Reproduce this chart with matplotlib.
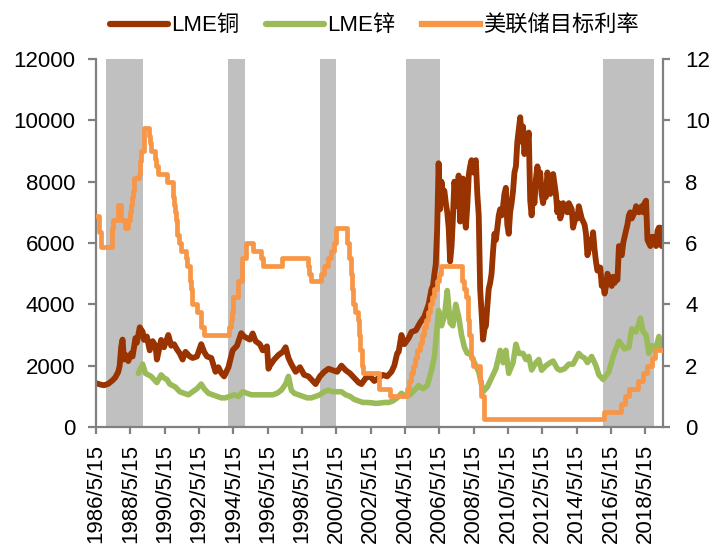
import matplotlib
matplotlib.use("Agg")
import matplotlib.pyplot as plt
import pandas as pd

plt.rcParams['font.family'] = ['Liberation Sans', 'Noto Sans CJK SC', 'DejaVu Sans']

# ---------------- data ----------------
copper_dates = ['1986-05-15', '1986-08', '1986-11', '1987-02', '1987-05', '1987-07', '1987-09', '1987-10',
                '1987-11', '1987-12', '1988-01', '1988-02', '1988-04', '1988-06', '1988-07', '1988-09',
                '1988-10', '1988-12', '1989-02', '1989-03', '1989-05', '1989-07', '1989-09', '1989-11',
                '1989-12', '1990-03', '1990-05', '1990-08', '1990-10', '1990-12', '1991-02', '1991-04',
                '1991-06', '1991-08', '1991-11', '1992-01', '1992-04', '1992-07', '1992-09', '1992-11',
                '1993-02', '1993-05', '1993-07', '1993-09', '1993-11', '1994-02', '1994-05', '1994-08',
                '1994-11', '1995-01', '1995-03', '1995-05', '1995-07', '1995-09', '1995-12', '1996-02',
                '1996-05', '1996-06', '1996-07', '1996-10', '1997-01', '1997-04', '1997-06', '1997-08',
                '1997-10', '1998-01', '1998-04', '1998-07', '1998-10', '1999-01', '1999-03', '1999-06',
                '1999-09', '1999-12', '2000-03', '2000-06', '2000-09', '2000-12', '2001-03', '2001-06',
                '2001-09', '2001-11', '2002-02', '2002-05', '2002-08', '2002-11', '2003-02', '2003-05',
                '2003-08', '2003-10', '2003-12', '2004-01', '2004-03', '2004-05', '2004-08', '2004-10',
                '2005-01', '2005-04', '2005-07', '2005-10', '2005-12',
                '2006-01', '2006-02', '2006-03', '2006-04', '2006-05', '2006-06', '2006-07', '2006-08',
                '2006-09', '2006-10', '2006-11', '2006-12', '2007-01', '2007-02', '2007-03', '2007-04',
                '2007-05', '2007-06', '2007-07', '2007-08', '2007-09', '2007-10', '2007-11', '2007-12',
                '2008-01', '2008-02', '2008-03', '2008-04', '2008-05', '2008-06', '2008-07', '2008-08',
                '2008-09', '2008-10', '2008-11', '2008-12', '2009-01', '2009-02', '2009-03', '2009-04',
                '2009-05', '2009-06', '2009-07', '2009-08', '2009-09', '2009-10', '2009-11', '2009-12',
                '2010-01', '2010-02', '2010-03', '2010-04', '2010-05', '2010-06', '2010-07', '2010-08',
                '2010-09', '2010-10', '2010-11', '2010-12', '2011-01', '2011-02', '2011-03', '2011-04',
                '2011-05', '2011-06', '2011-07', '2011-08', '2011-09', '2011-10', '2011-11', '2011-12',
                '2012-01', '2012-02', '2012-03', '2012-04', '2012-05', '2012-06', '2012-07', '2012-08',
                '2012-09', '2012-10', '2012-11', '2012-12', '2013-01', '2013-02', '2013-03', '2013-04',
                '2013-05', '2013-06', '2013-07', '2013-08', '2013-09', '2013-10', '2013-11', '2013-12',
                '2014-01', '2014-02', '2014-03', '2014-04', '2014-05', '2014-06', '2014-07', '2014-08',
                '2014-09', '2014-10', '2014-11', '2014-12', '2015-01', '2015-02', '2015-03', '2015-04',
                '2015-05', '2015-06', '2015-07', '2015-08', '2015-09', '2015-10', '2015-11', '2015-12',
                '2016-01', '2016-02', '2016-03', '2016-04', '2016-05', '2016-06', '2016-07', '2016-08',
                '2016-09', '2016-10', '2016-11', '2016-12', '2017-01', '2017-02', '2017-03', '2017-04',
                '2017-05', '2017-06', '2017-07', '2017-08', '2017-09', '2017-10', '2017-11', '2017-12',
                '2018-01', '2018-02', '2018-03', '2018-04', '2018-05', '2018-06', '2018-07', '2018-08',
                '2018-09', '2018-10', '2018-11', '2018-12', '2019-01', '2019-02', '2019-03', '2019-04',
                '2019-05']
copper_vals = [1430, 1390, 1360, 1410, 1520, 1620, 1800, 2000,
               2600, 2850, 2200, 2350, 2150, 2400, 2300, 2900,
               2750, 3250, 3100, 2840, 2950, 2500, 2800, 2650,
               2200, 2840, 2600, 3000, 2650, 2700, 2530, 2400,
               2200, 2450, 2300, 2250, 2300, 2700, 2450, 2300,
               2250, 1800, 1950, 1760, 1650, 1950, 2500, 2650,
               3060, 2950, 2900, 2850, 3050, 2800, 2700, 2500,
               2630, 1900, 2000, 2200, 2350, 2450, 2600, 2250,
               2050, 1800, 1950, 1700, 1650, 1500, 1400, 1650,
               1800, 1900, 1850, 1800, 2000, 1850, 1750, 1600,
               1450, 1400, 1600, 1650, 1500, 1600, 1700, 1650,
               1800, 2000, 2400, 2450, 3000, 2700, 2900, 3100,
               3150, 3400, 3600, 4000, 4500,
               4600, 5000, 5300, 6500, 8600, 7100, 8000, 7600,
               7700, 7300, 7000, 6500, 5400, 5900, 6800, 8000,
               7600, 7200, 8200, 6700, 7800, 8100, 6900, 6500,
               7200, 8200, 8500, 8700, 8300, 8600, 8700, 7600,
               6900, 4500, 3700, 2850, 3200, 3300, 3900, 4500,
               4700, 5000, 5700, 6300, 6100, 6500, 6900, 7100,
               6900, 7200, 7600, 7800, 6600, 6300, 7000, 7300,
               7700, 8300, 8500, 9300, 9700, 10100, 9300, 9800,
               8900, 9400, 9200, 9600, 7400, 6900, 7600, 7300,
               8100, 8500, 8200, 8300, 7600, 7300, 7600, 7500,
               8300, 8000, 7600, 8000, 8250, 7900, 7600, 7000,
               7300, 6800, 6950, 7300, 7100, 7200, 7000, 7300,
               7200, 7100, 6500, 6700, 6900, 6800, 7200, 7000,
               6800, 6700, 6600, 6300, 5600, 5800, 6100, 6000,
               6350, 5800, 5400, 5100, 5200, 5200, 4600, 4700,
               4350, 4600, 5000, 4900, 4700, 4600, 4900, 4700,
               4800, 4800, 5900, 5700, 5600, 6000, 6200, 6400,
               6600, 6900, 7000, 6800, 6900, 7000, 7200, 7100,
               7000, 7100, 7200, 7000, 7300, 7380, 6100, 6000,
               5900, 6200, 6200, 6100, 5900, 6400, 6500, 6500,
               5900]

zinc_dates = ['1988-11', '1989-01', '1989-02', '1989-04', '1989-06', '1989-08', '1989-10', '1989-12',
              '1990-03', '1990-05', '1990-07', '1990-09', '1991-01', '1991-04', '1991-07', '1991-10',
              '1992-01', '1992-04', '1992-07', '1992-09', '1992-12', '1993-03', '1993-06', '1993-09',
              '1993-12', '1994-03', '1994-06', '1994-09', '1994-12', '1995-03', '1995-06', '1995-09',
              '1995-12', '1996-03', '1996-06', '1996-09', '1996-12', '1997-03', '1997-06', '1997-08',
              '1997-10', '1997-12', '1998-03', '1998-06', '1998-09', '1998-12', '1999-03', '1999-06',
              '1999-09', '1999-12', '2000-03', '2000-06', '2000-09', '2000-12', '2001-03', '2001-06',
              '2001-09', '2001-12', '2002-03', '2002-06', '2002-09', '2002-12', '2003-03', '2003-06',
              '2003-09', '2003-12', '2004-03', '2004-06', '2004-09', '2004-12', '2005-03', '2005-06',
              '2005-09', '2005-12', '2006-02', '2006-04', '2006-05', '2006-07', '2006-09', '2006-11',
              '2007-01', '2007-03', '2007-05', '2007-07', '2007-09', '2007-11', '2008-01', '2008-03',
              '2008-06', '2008-09', '2008-12', '2009-03', '2009-06', '2009-09', '2009-12', '2010-02',
              '2010-04', '2010-06', '2010-09', '2010-11', '2011-01', '2011-04', '2011-06', '2011-08',
              '2011-10', '2012-01', '2012-03', '2012-05', '2012-08', '2012-11', '2013-01', '2013-04',
              '2013-06', '2013-09', '2013-12', '2014-03', '2014-07', '2014-09', '2014-11', '2015-01',
              '2015-04', '2015-07', '2015-09', '2015-12', '2016-04', '2016-07', '2016-11', '2017-03',
              '2017-06', '2017-08', '2017-11', '2018-02', '2018-04', '2018-06', '2018-08', '2018-10',
              '2019-01', '2019-03', '2019-05']
zinc_vals = [1750, 1950, 2050, 1750, 1700, 1650, 1550, 1450,
             1700, 1600, 1550, 1400, 1300, 1150, 1100, 1050,
             1150, 1250, 1400, 1250, 1100, 1050, 1000, 950,
             950, 1000, 1050, 1000, 1150, 1100, 1050, 1050,
             1050, 1050, 1050, 1050, 1100, 1200, 1400, 1650,
             1200, 1100, 1050, 1000, 950, 950, 1000, 1050,
             1150, 1200, 1150, 1150, 1150, 1050, 1000, 900,
             850, 800, 800, 790, 770, 780, 800, 800,
             850, 950, 1100, 1000, 1050, 1200, 1350, 1250,
             1350, 1850, 2300, 3300, 3800, 3300, 3600, 4450,
             3400, 3300, 4000, 3600, 3000, 2600, 2400, 2400,
             2100, 1800, 1150, 1300, 1600, 1900, 2500, 2100,
             2500, 1750, 2100, 2700, 2400, 2400, 2200, 2300,
             1860, 2100, 2200, 1850, 2000, 2100, 2150, 1900,
             1850, 1900, 2050, 2050, 2400, 2300, 2250, 2100,
             2300, 2000, 1700, 1550, 1800, 2300, 2800, 2550,
             2600, 3200, 3100, 3550, 3100, 3000, 2400, 2650,
             2600, 2950, 2550]

fed_dates = ['1986-05-15', '1986-07-11', '1986-08-21', '1987-04-30', '1987-05-20', '1987-09-04', '1987-10-22',
             '1987-11-04', '1988-01-28', '1988-03-30', '1988-05-09', '1988-05-25', '1988-06-22', '1988-07-19',
             '1988-08-09', '1988-11-17', '1988-12-15', '1989-01-05', '1989-02-24', '1989-06-06', '1989-07-07',
             '1989-07-27', '1989-10-18', '1989-11-06', '1989-12-20', '1990-07-13', '1990-10-29', '1990-11-14',
             '1990-12-07', '1990-12-19', '1991-01-09', '1991-02-01', '1991-03-08', '1991-04-30', '1991-08-06',
             '1991-09-13', '1991-10-31', '1991-11-06', '1991-12-06', '1991-12-20', '1992-04-09', '1992-07-02',
             '1992-09-04', '1994-02-04', '1994-03-22', '1994-04-18', '1994-05-17', '1994-08-16', '1994-11-15',
             '1995-02-01', '1995-07-06', '1995-12-19', '1996-01-31', '1997-03-25', '1998-09-29', '1998-10-15',
             '1998-11-17', '1999-06-30', '1999-08-24', '1999-11-16', '2000-02-02', '2000-03-21', '2000-05-16',
             '2001-01-03', '2001-01-31', '2001-03-20', '2001-04-18', '2001-05-15', '2001-06-27', '2001-08-21',
             '2001-09-17', '2001-10-02', '2001-11-06', '2001-12-11', '2002-11-06', '2003-06-25', '2004-06-30',
             '2004-08-10', '2004-09-21', '2004-11-10', '2004-12-14', '2005-02-02', '2005-03-22', '2005-05-03',
             '2005-06-30', '2005-08-09', '2005-09-20', '2005-11-01', '2005-12-13', '2006-01-31', '2006-03-28',
             '2006-05-10', '2006-06-29', '2007-09-18', '2007-10-31', '2007-12-11', '2008-01-22', '2008-01-30',
             '2008-03-18', '2008-04-30', '2008-10-08', '2008-10-29', '2008-12-16', '2015-12-16', '2016-12-14',
             '2017-03-15', '2017-06-14', '2017-12-13', '2018-03-21', '2018-06-13', '2018-09-26', '2018-12-19',
             '2019-05-20']
fed_vals = [6.875, 6.375, 5.875, 6.5, 6.75, 7.25, 6.875,
            6.75, 6.5, 6.75, 7.0, 7.25, 7.5, 7.6875,
            8.125, 8.25, 8.6875, 9.0, 9.75, 9.5, 9.25,
            9.0, 8.75, 8.5, 8.25, 8.0, 7.75, 7.5,
            7.25, 7.0, 6.75, 6.25, 6.0, 5.75, 5.5,
            5.25, 5.0, 4.75, 4.5, 4.0, 3.75, 3.25,
            3.0, 3.25, 3.5, 3.75, 4.25, 4.75, 5.5,
            6.0, 5.75, 5.5, 5.25, 5.5, 5.25, 5.0,
            4.75, 5.0, 5.25, 5.5, 5.75, 6.0, 6.5,
            6.0, 5.5, 5.0, 4.5, 4.0, 3.75, 3.5,
            3.0, 2.5, 2.0, 1.75, 1.25, 1.0, 1.25,
            1.5, 1.75, 2.0, 2.25, 2.5, 2.75, 3.0,
            3.25, 3.5, 3.75, 4.0, 4.25, 4.5, 4.75,
            5.0, 5.25, 4.75, 4.5, 4.25, 3.5, 3.0,
            2.25, 2.0, 1.5, 1.0, 0.25, 0.5, 0.75,
            1.0, 1.25, 1.5, 1.75, 2.0, 2.25, 2.5,
            2.5]

span_starts = ['1986-12-15', '1994-01-20', '1999-06-05', '2004-06-15', '2015-11-20']
span_ends = ['1989-02-15', '1995-01-10', '2000-05-01', '2006-06-05', '2018-11-15']

tick_years = list(range(1986, 2019, 2))
tick_labels = [f"{y}/5/15" for y in tick_years]
left_ticks = [0, 2000, 4000, 6000, 8000, 10000, 12000]
right_ticks = [0, 2, 4, 6, 8, 10, 12]
series_names = ['LME铜', 'LME锌', '美联储目标利率']


def to_dt(seq):
    return pd.to_datetime(seq, format='ISO8601')


# ---------------- plot ----------------
c_copper = '#993300'
c_zinc = '#9BBB59'
c_fed = '#F79646'
c_axis = '#808080'
fs = 16

fig = plt.figure(figsize=(7.13, 5.49), dpi=100)
ax = fig.add_axes([96 / 713, 122 / 549, 567 / 713, 368 / 549])
ax2 = ax.twinx()

for s, e in zip(span_starts, span_ends):
    ax.axvspan(pd.Timestamp(s), pd.Timestamp(e), color='#C0C0C0', lw=0, zorder=0)

l1, = ax.plot(to_dt(copper_dates), copper_vals, color=c_copper, lw=4.2,
              solid_joinstyle='round', solid_capstyle='round', zorder=2)
l2, = ax.plot(to_dt(zinc_dates), zinc_vals, color=c_zinc, lw=4.0,
              solid_joinstyle='round', solid_capstyle='round', zorder=3)
l3, = ax2.plot(to_dt(fed_dates), fed_vals, color=c_fed, lw=3.4,
               drawstyle='steps-post', zorder=4)

ax.set_xlim(pd.Timestamp('1986-05-15'), pd.Timestamp('2019-05-28'))
ax.set_ylim(0, 12000)
ax2.set_ylim(0, 12)

ax.set_xticks(to_dt([f"{y}-05-15" for y in tick_years]))
ax.set_xticklabels(tick_labels, rotation=90, fontsize=fs)
ax.set_yticks(left_ticks)
ax.set_yticklabels([str(v) for v in left_ticks], fontsize=fs)
ax2.set_yticks(right_ticks)
ax2.set_yticklabels([str(v) for v in right_ticks], fontsize=fs)

for a in (ax, ax2):
    for side in ('left', 'right', 'bottom'):
        a.spines[side].set_color(c_axis)
        a.spines[side].set_linewidth(1.6)
    a.spines['top'].set_visible(False)
ax.spines['right'].set_visible(False)
ax2.spines['left'].set_visible(False)
ax2.spines['bottom'].set_visible(False)

ax.tick_params(axis='y', direction='out', length=6, width=1.6, color=c_axis, pad=9, labelcolor='black')
ax.tick_params(axis='x', direction='out', length=5, width=1.6, color=c_axis, pad=7, labelcolor='black')
ax2.tick_params(axis='y', direction='out', length=5, width=1.6, color=c_axis, pad=11, labelcolor='black')

ax.set_zorder(1)
ax2.set_zorder(2)
ax.patch.set_visible(False)

leg = fig.legend([l1, l2, l3], series_names, loc='center', bbox_to_anchor=(0.525, 0.953), ncol=3,
                 frameon=False, fontsize=fs, handlelength=2.6, handletextpad=0.15, columnspacing=1.2)
for h in leg.legend_handles:
    h.set_linewidth(4.5)
    h.set_drawstyle('default')

fig.savefig('out.png', dpi=100)
